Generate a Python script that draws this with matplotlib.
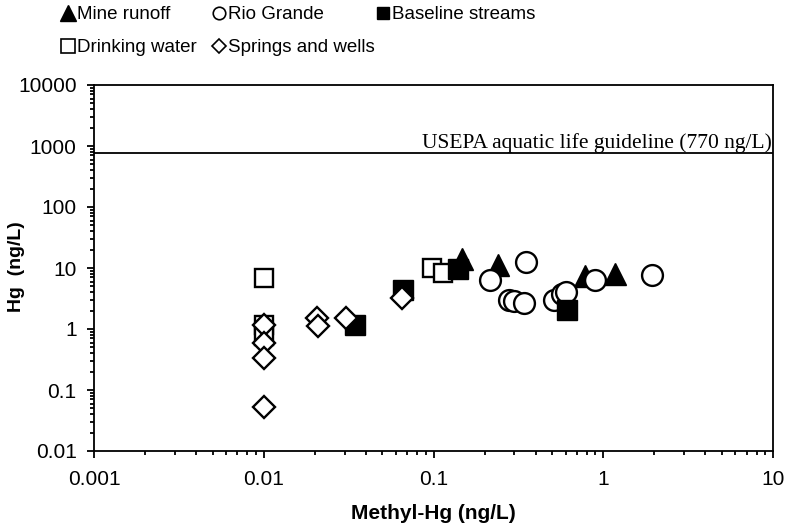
import numpy as np
import matplotlib
matplotlib.use("Agg")
from matplotlib import pyplot as plt
from matplotlib.lines import Line2D
from matplotlib.ticker import LogLocator, FuncFormatter

plt.rcParams['font.family'] = ['Liberation Sans', 'DejaVu Sans']

# values (ng/L)
mine_mehg = [0.147, 0.24, 0.78, 1.17]
mine_hg = [14.0, 11.2, 7.3, 7.9]

drink_mehg = [0.01, 0.01, 0.01, 0.0975, 0.114]
drink_hg = [6.9, 1.15, 0.78, 9.9, 8.4]

rio_mehg = [0.215, 0.35, 0.28, 0.30, 0.34, 0.51, 0.57, 0.60, 0.89, 1.93]
rio_hg = [6.4, 12.7, 3.0, 2.9, 2.7, 3.0, 3.8, 4.1, 6.4, 7.6]

base_mehg = [0.0345, 0.066, 0.14, 0.61]
base_hg = [1.15, 4.4, 9.5, 2.05]

spring_mehg = [0.01, 0.01, 0.01, 0.01, 0.0205, 0.021, 0.0306, 0.065]
spring_hg = [1.15, 0.6, 0.34, 0.052, 1.5, 1.1, 1.5, 3.2]

guideline = 770
guide_label = "USEPA aquatic life guideline (770 ng/L)"

W, H = 787, 525
fig = plt.figure(figsize=(W / 100, H / 100), dpi=100)
ax = fig.add_axes([94 / W, 1 - 451 / H, (773 - 94) / W, (451 - 85) / H])

ew = 1.7
ax.plot(mine_mehg, mine_hg, ls='none', marker='^', ms=16, color='black', zorder=3)
ax.plot(drink_mehg, drink_hg, ls='none', marker='s', ms=13.5, mfc='white', mec='black', mew=ew, zorder=3.1)
ax.plot(rio_mehg, rio_hg, ls='none', marker='o', ms=15, mfc='white', mec='black', mew=ew, zorder=3.2)
ax.plot(base_mehg, base_hg, ls='none', marker='s', ms=14, color='black', zorder=3.3)
ax.plot(spring_mehg, spring_hg, ls='none', marker='D', ms=11, mfc='white', mec='black', mew=ew, zorder=3.4)

ax.axhline(guideline, color='black', lw=1.3, zorder=2)
ax.annotate(guide_label, xy=(1, guideline), xycoords=('axes fraction', 'data'),
            xytext=(-1, 0), textcoords='offset points', ha='right', va='bottom',
            fontsize=15.5, family=['Liberation Serif', 'DejaVu Serif'])

ax.set_xscale('log')
ax.set_yscale('log')
ax.set_xlim(0.001, 10)
ax.set_ylim(0.01, 10000)
fmt = FuncFormatter(lambda v, p: '{:g}'.format(v))
for axis in (ax.xaxis, ax.yaxis):
    axis.set_major_locator(LogLocator(base=10, numticks=20))
    axis.set_minor_locator(LogLocator(base=10, subs=np.arange(2, 10), numticks=20))
    axis.set_major_formatter(fmt)
ax.tick_params(which='both', direction='out', width=1.3, labelsize=15, top=False, right=False)
ax.tick_params(which='major', length=5)
ax.tick_params(axis='x', which='major', pad=8.5)
ax.tick_params(axis='y', which='major', pad=7.5)
ax.tick_params(which='minor', length=3)
for s in ax.spines.values():
    s.set_linewidth(1.3)

ax.set_xlabel('Methyl-Hg (ng/L)', fontsize=15, fontweight='bold', labelpad=11)
ax.set_ylabel('Hg  (ng/L)', fontsize=14, fontweight='bold')
ax.yaxis.set_label_coords(-0.102, 0.505)

# legend in three hand-placed columns above the plot
cols = [
    (67, [Line2D([], [], ls='none', marker='^', ms=11, color='black'),
          Line2D([], [], ls='none', marker='s', ms=10, mfc='white', mec='black', mew=1.2)],
     ['Mine runoff', 'Drinking water']),
    (218, [Line2D([], [], ls='none', marker='o', ms=9, mfc='white', mec='black', mew=1.2),
           Line2D([], [], ls='none', marker='D', ms=7, mfc='white', mec='black', mew=1.2)],
     ['Rio Grande', 'Springs and wells']),
    (382, [Line2D([], [], ls='none', marker='s', ms=9, color='black')],
     ['Baseline streams']),
]
for x, handles, labels in cols:
    fig.legend(handles, labels, loc='upper left', bbox_to_anchor=((x - 7) / W, 1 - 6 / H),
               frameon=False, borderpad=0, borderaxespad=0, handlelength=0.8,
               handletextpad=0.12, labelspacing=0.85, prop={'size': 13.5})

fig.savefig('out.png', dpi=100)
